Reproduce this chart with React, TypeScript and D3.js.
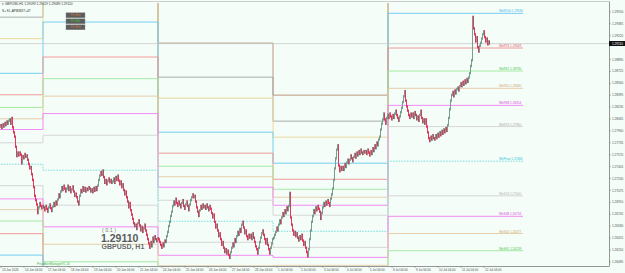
import React from 'react';
import * as d3 from 'd3';

const W = 625;
const H = 273;
const BARS_PER_DAY = 23;

// ---- time axis labels (one per trading day, at 04:00) ----
const dayLabels = [
  '13 Jun 2024', '14 Jun 04:00', '17 Jun 04:00', '18 Jun 04:00', '19 Jun 04:00', '20 Jun 04:00',
  '21 Jun 04:00', '24 Jun 04:00', '25 Jun 04:00', '26 Jun 04:00', '27 Jun 04:00', '28 Jun 04:00',
  '1 Jul 04:00', '2 Jul 04:00', '3 Jul 04:00', '4 Jul 04:00', '5 Jul 04:00', '8 Jul 04:00',
  '9 Jul 04:00', '10 Jul 04:00', '11 Jul 04:00', '12 Jul 04:00',
];
const labelHour = 4;

// ---- H1 closes, grouped by week (13 Jun 00:00 onward) ----
const closesWk0 = [
  1.2790, 1.2793, 1.2796, 1.2798, 1.2794, 1.2799, 1.2796, 1.2801, 1.2798, 1.2803, 1.2800, 1.2804, 1.2806, 1.2800, 1.2808, 1.2795, 1.2788, 1.2782, 1.2768, 1.2755, 1.2760, 1.2756, 1.2760,
  1.2757, 1.2745, 1.2755, 1.2752, 1.2758, 1.2754, 1.2756, 1.2750, 1.2744, 1.2738, 1.2740, 1.2730, 1.2722, 1.2712, 1.2700, 1.2694, 1.2688, 1.2676, 1.2684, 1.2690, 1.2686, 1.2683, 1.2686,
];
const closesWk1 = [
  1.2684, 1.2680, 1.2686, 1.2682, 1.2678, 1.2684, 1.2688, 1.2683, 1.2679, 1.2685, 1.2690, 1.2686, 1.2692, 1.2688, 1.2695, 1.2702, 1.2698, 1.2706, 1.2712, 1.2708, 1.2714, 1.2710, 1.2706,
  1.2710, 1.2714, 1.2708, 1.2712, 1.2705, 1.2709, 1.2713, 1.2706, 1.2700, 1.2703, 1.2698, 1.2692, 1.2688, 1.2700, 1.2708, 1.2705, 1.2712, 1.2707, 1.2711, 1.2706, 1.2710, 1.2708, 1.2712,
  1.2710, 1.2706, 1.2709, 1.2705, 1.2711, 1.2707, 1.2712, 1.2708, 1.2714, 1.2722, 1.2728, 1.2733, 1.2729, 1.2735, 1.2726, 1.2718, 1.2722, 1.2716, 1.2721, 1.2724, 1.2719, 1.2722, 1.2718,
  1.2720, 1.2724, 1.2718, 1.2726, 1.2722, 1.2728, 1.2721, 1.2716, 1.2720, 1.2712, 1.2716, 1.2708, 1.2702, 1.2706, 1.2698, 1.2692, 1.2684, 1.2690, 1.2680, 1.2674, 1.2668, 1.2662, 1.2658,
  1.2660, 1.2654, 1.2662, 1.2666, 1.2659, 1.2652, 1.2657, 1.2650, 1.2655, 1.2660, 1.2652, 1.2646, 1.2640, 1.2634, 1.2628, 1.2636, 1.2630, 1.2642, 1.2636, 1.2644, 1.2640, 1.2637, 1.2641,
];
const closesWk2 = [
  1.2640, 1.2636, 1.2632, 1.2628, 1.2634, 1.2630, 1.2638, 1.2636, 1.2644, 1.2650, 1.2658, 1.2664, 1.2672, 1.2678, 1.2686, 1.2692, 1.2688, 1.2696, 1.2690, 1.2686, 1.2692, 1.2688, 1.2684,
  1.2690, 1.2694, 1.2686, 1.2682, 1.2688, 1.2692, 1.2686, 1.2680, 1.2688, 1.2694, 1.2698, 1.2702, 1.2698, 1.2700, 1.2692, 1.2684, 1.2678, 1.2672, 1.2680, 1.2686, 1.2682, 1.2688, 1.2684,
  1.2686, 1.2682, 1.2688, 1.2684, 1.2680, 1.2686, 1.2682, 1.2676, 1.2670, 1.2674, 1.2664, 1.2656, 1.2660, 1.2652, 1.2644, 1.2648, 1.2640, 1.2632, 1.2636, 1.2628, 1.2622, 1.2626, 1.2620,
  1.2624, 1.2618, 1.2614, 1.2622, 1.2628, 1.2634, 1.2630, 1.2640, 1.2636, 1.2644, 1.2650, 1.2646, 1.2654, 1.2650, 1.2660, 1.2664, 1.2656, 1.2648, 1.2652, 1.2644, 1.2640, 1.2646, 1.2642,
  1.2646, 1.2640, 1.2648, 1.2642, 1.2636, 1.2630, 1.2626, 1.2620, 1.2628, 1.2636, 1.2642, 1.2648, 1.2652, 1.2646, 1.2640, 1.2634, 1.2640, 1.2632, 1.2626, 1.2620, 1.2628, 1.2634, 1.2640,
];
const closesWk3 = [
  1.2642, 1.2646, 1.2650, 1.2656, 1.2652, 1.2660, 1.2666, 1.2662, 1.2670, 1.2676, 1.2672, 1.2680, 1.2676, 1.2684, 1.2680, 1.2686, 1.2704, 1.2670, 1.2660, 1.2652, 1.2646, 1.2650, 1.2644,
  1.2648, 1.2642, 1.2638, 1.2644, 1.2640, 1.2646, 1.2638, 1.2632, 1.2636, 1.2628, 1.2622, 1.2616, 1.2626, 1.2640, 1.2652, 1.2664, 1.2672, 1.2680, 1.2676, 1.2684, 1.2680, 1.2686, 1.2682,
  1.2678, 1.2668, 1.2676, 1.2684, 1.2690, 1.2686, 1.2692, 1.2688, 1.2694, 1.2690, 1.2686, 1.2696, 1.2702, 1.2710, 1.2722, 1.2738, 1.2752, 1.2764, 1.2770, 1.2742, 1.2734, 1.2740, 1.2736,
  1.2740, 1.2736, 1.2744, 1.2740, 1.2746, 1.2750, 1.2745, 1.2750, 1.2756, 1.2752, 1.2748, 1.2754, 1.2758, 1.2753, 1.2760, 1.2756, 1.2762, 1.2758, 1.2764, 1.2760, 1.2758, 1.2762, 1.2760,
  1.2762, 1.2758, 1.2764, 1.2760, 1.2756, 1.2762, 1.2758, 1.2766, 1.2762, 1.2770, 1.2766, 1.2774, 1.2770, 1.2778, 1.2782, 1.2792, 1.2800, 1.2806, 1.2814, 1.2806, 1.2800, 1.2808, 1.2812,
];
const closesWk4 = [
  1.2808, 1.2814, 1.2810, 1.2806, 1.2812, 1.2808, 1.2814, 1.2818, 1.2812, 1.2808, 1.2804, 1.2810, 1.2816, 1.2822, 1.2830, 1.2838, 1.2845, 1.2832, 1.2824, 1.2818, 1.2812, 1.2808, 1.2814,
  1.2810, 1.2814, 1.2808, 1.2816, 1.2812, 1.2806, 1.2810, 1.2804, 1.2812, 1.2818, 1.2808, 1.2802, 1.2806, 1.2800, 1.2806, 1.2796, 1.2788, 1.2780, 1.2776, 1.2782, 1.2778, 1.2784, 1.2780,
  1.2778, 1.2784, 1.2780, 1.2786, 1.2782, 1.2788, 1.2784, 1.2790, 1.2786, 1.2792, 1.2788, 1.2794, 1.2790, 1.2798, 1.2808, 1.2820, 1.2832, 1.2840, 1.2844, 1.2838, 1.2846, 1.2842, 1.2848,
  1.2850, 1.2846, 1.2852, 1.2856, 1.2852, 1.2858, 1.2854, 1.2860, 1.2856, 1.2862, 1.2858, 1.2864, 1.2870, 1.2880, 1.2888, 1.2948, 1.2932, 1.2924, 1.2914, 1.2920, 1.2906, 1.2900, 1.2908,
  1.2912, 1.2918, 1.2924, 1.2928, 1.2920, 1.2914, 1.2918, 1.2910, 1.2914, 1.2911,
];

// ---- weekly fibonacci pivot levels (weeks starting 10 Jun, 17 Jun, 24 Jun, 1 Jul, 8 Jul) ----
const weekStartDay = [-3, 2, 7, 12, 17];
const levelEndBar = 526;
const levelLabelBar = 502;
const R200 = [1.29958, 1.31463, 1.29117, 1.28396, 1.31580];
const R161 = [1.29477, 1.30678, 1.28645, 1.28035, 1.30797];
const R138 = [1.29179, 1.30194, 1.28354, 1.27813, 1.30313];
const R100 = [1.28698, 1.29409, 1.27882, 1.27452, 1.29530];
const R76 = [1.28401, 1.28924, 1.27591, 1.27229, 1.29049];
const R61 = [1.28225, 1.28624, 1.27410, 1.27091, 1.28730];
const R50 = [1.28068, 1.28382, 1.27265, 1.26980, 1.28490];
const R38 = [1.27919, 1.28140, 1.27119, 1.26869, 1.28254];
const R23 = [1.27735, 1.27840, 1.26938, 1.26731, 1.27960];
const Pivot = [1.27438, 1.27355, 1.26647, 1.26508, 1.27480];
const S23 = [1.27141, 1.26870, 1.26356, 1.26285, 1.27000];
const S38 = [1.26957, 1.26570, 1.26175, 1.26147, 1.26716];
const S50 = [1.26808, 1.26328, 1.26030, 1.26036, 1.26477];
const S61 = [1.26651, 1.26086, 1.25884, 1.25925, 1.26239];
const S76 = [1.26475, 1.25786, 1.25703, 1.25787, 1.25914];
const S100 = [1.26178, 1.25301, 1.25412, 1.25564, 1.25430];

// ---- price axis ----
const priceTicks = [
  1.29550, 1.29385, 1.29220, 1.28890, 1.28725, 1.28560, 1.28395, 1.28230, 1.28065, 1.27900, 1.27735,
  1.27570, 1.27405, 1.27240, 1.27075, 1.26910, 1.26745, 1.26580, 1.26415, 1.26250, 1.26085,
];
const priceDomain = [1.26027, 1.29673];
const lastPrice = 1.29110;
const ohlcHeader = 'GBPUSD,H1  1.29099 1.29119 1.29089 1.29110';
const subHeader = 'S+ KL,APB3827+47';
const buttons = ['Pls Em', 'Pls Mo', 'Pls Em'];

const FONT = 'Liberation Sans, Arial, sans-serif';

const levelStyle: Record<string, { line: string; text: string; dash?: string }> = {
  R200: { line: '#b98a70', text: '#a07050' },
  R161: { line: '#a4a4a4', text: '#909090' },
  R138: { line: '#ecd490', text: '#d0b060' },
  R100: { line: '#66c8f2', text: '#38b4ea' },
  R76: { line: '#f08e8e', text: '#e64c68' },
  R61: { line: '#9ce89c', text: '#4cc44c' },
  R50: { line: '#e6c8a0', text: '#d2a26c' },
  R38: { line: '#f27ef2', text: '#e040e0' },
  R23: { line: '#d2d2d2', text: '#a8a8a8' },
  Pivot: { line: '#6cdede', text: '#2cc4d4', dash: '1.6,1.2' },
  S23: { line: '#d2d2d2', text: '#b0b0b0' },
  S38: { line: '#f27ef2', text: '#e040e0' },
  S50: { line: '#e6c8a0', text: '#d2a26c' },
  S61: { line: '#9ce89c', text: '#4cc44c' },
  S76: { line: '#f08e8e', text: '#e64c68' },
  S100: { line: '#66c8f2', text: '#38b4ea' },
};

export default function App() {
  const plot = { left: 0, right: 609, top: 3, bottom: 266 };
  const x = d3.scaleLinear().domain([0, BARS_PER_DAY]).range([-3, 20]);
  const y = d3.scaleLinear().domain(priceDomain).range([plot.bottom, plot.top]);

  const closes = [...closesWk0, ...closesWk1, ...closesWk2, ...closesWk3, ...closesWk4];
  const candles = closes.map((c, i) => ({ i, o: i > 0 ? closes[i - 1] : c, c }));

  const levels: [string, number[]][] = [
    ['R200', R200], ['R161', R161], ['R138', R138], ['R100', R100], ['R76', R76], ['R61', R61],
    ['R50', R50], ['R38', R38], ['R23', R23], ['Pivot', Pivot], ['S23', S23], ['S38', S38],
    ['S50', S50], ['S61', S61], ['S76', S76], ['S100', S100],
  ];
  const line = d3
    .line<[number, number]>()
    .x((d) => x(d[0]))
    .y((d) => y(d[1]))
    .curve(d3.curveStepAfter);

  const yLast = y(lastPrice);

  return (
    <svg
      width={W}
      height={H}
      style={{ position: 'fixed', left: 0, top: 0, display: 'block' }}
      fontFamily={FONT}
    >
      <defs>
        <clipPath id="plotClip">
          <rect x={plot.left} y={plot.top} width={plot.right - plot.left} height={plot.bottom - plot.top} />
        </clipPath>
      </defs>
      <rect x={0} y={0} width={W} height={H} fill="#f4fdf8" />

      <g clipPath="url(#plotClip)">
        {/* weekly levels as step lines */}
        {levels.map(([name, vals]) => {
          const pts: [number, number][] = vals.map((v, k) => [weekStartDay[k] * BARS_PER_DAY, v]);
          pts.push([levelEndBar, vals[vals.length - 1]]);
          const st = levelStyle[name];
          return (
            <path
              key={name}
              d={line(pts) || ''}
              fill="none"
              stroke={st.line}
              strokeWidth={0.9}
              strokeDasharray={st.dash}
            />
          );
        })}

        {/* bid line */}
        <line x1={plot.left} x2={plot.right} y1={yLast} y2={yLast} stroke="#c4c4c4" strokeWidth={0.7} />

        {/* candles */}
        {candles.map((d) => {
          const y0 = y(Math.max(d.o, d.c));
          const y1 = y(Math.min(d.o, d.c));
          const up = d.c >= d.o;
          return (
            <rect
              key={d.i}
              x={x(d.i)}
              y={y0 - 1.2}
              width={1}
              height={Math.max(1, y1 - y0) + 2.4}
              fill={up ? '#789e92' : '#e0385c'}
            />
          );
        })}
      </g>

      {/* current week level labels (only those inside the price range) */}
      {levels
        .filter(([, vals]) => {
          const yy = y(vals[vals.length - 1]);
          return yy > plot.top + 4 && yy < plot.bottom;
        })
        .map(([name, vals]) => {
          const v = vals[vals.length - 1];
          const st = levelStyle[name];
          return (
            <text key={'lbl' + name} x={x(levelLabelBar)} y={y(v) - 0.9} fontSize={3.1} fill={st.text}>
              {`We${name} ${v.toFixed(5)}`}
            </text>
          );
        })}

      {/* top-left header */}
      <text x={2} y={5} fontSize={3.2} fill="#303030">{'\u25BE ' + ohlcHeader}</text>
      <text x={2} y={11.5} fontSize={3.2} fill="#303030">{subHeader}</text>

      {/* buttons */}
      {buttons.map((b, k) => (
        <g key={'btn' + k}>
          <rect x={66} y={12.8 + k * 6} width={19} height={5} fill="#5c5c5c" stroke="#8a8a8a" strokeWidth={0.4} />
          <text x={75.5} y={16.3 + k * 6} fontSize={3.2} textAnchor="middle" fill={k === 1 ? '#3cc43c' : '#d07a4a'}>
            {b}
          </text>
        </g>
      ))}

      {/* symbol watermark */}
      <text x={102} y={231.8} fontSize={5.4} fill="#7a7a7a">( 0.1 )</text>
      <text x={101} y={241.5} fontSize={10.5} fontWeight="bold" fill="#5a5a5a">{lastPrice.toFixed(5)}</text>
      <text x={101.5} y={248.5} fontSize={7} fontWeight="bold" fill="#6a6a6a">GBPUSD, H1</text>

      <text x={37} y={264.6} fontSize={3} fill="#44b044">PriceAlertManagerV1.16</text>

      {/* axes */}
      <line x1={plot.left} x2={plot.right} y1={plot.top - 1.5} y2={plot.top - 1.5} stroke="#b0b0b0" strokeWidth={0.6} />
      <line x1={plot.right + 0.5} x2={plot.right + 0.5} y1={plot.top - 1.5} y2={plot.bottom} stroke="#7c7c7c" strokeWidth={0.8} />
      <line x1={plot.left} x2={plot.right + 0.5} y1={plot.bottom + 0.5} y2={plot.bottom + 0.5} stroke="#7c7c7c" strokeWidth={0.8} />

      {priceTicks.map((p) => (
        <g key={'pt' + p}>
          <line x1={plot.right} x2={plot.right + 2} y1={y(p)} y2={y(p)} stroke="#7c7c7c" strokeWidth={0.5} />
          <text x={plot.right + 3} y={y(p) + 1.1} fontSize={3.1} fill="#505050">{p.toFixed(5)}</text>
        </g>
      ))}

      <rect x={plot.right} y={yLast - 2.6} width={W - plot.right} height={5} fill="#111" />
      <text x={plot.right + 3} y={yLast + 1.1} fontSize={3.1} fill="#fff">{lastPrice.toFixed(5)}</text>

      {dayLabels.map((lbl, k) => {
        const xx = x(k * BARS_PER_DAY + labelHour);
        return (
          <g key={'dl' + k}>
            <line x1={xx} x2={xx} y1={plot.bottom} y2={plot.bottom + 2} stroke="#7c7c7c" strokeWidth={0.5} />
            <text x={xx + 1} y={plot.bottom + 4.8} fontSize={3} fill="#505050">{lbl}</text>
          </g>
        );
      })}
    </svg>
  );
}
